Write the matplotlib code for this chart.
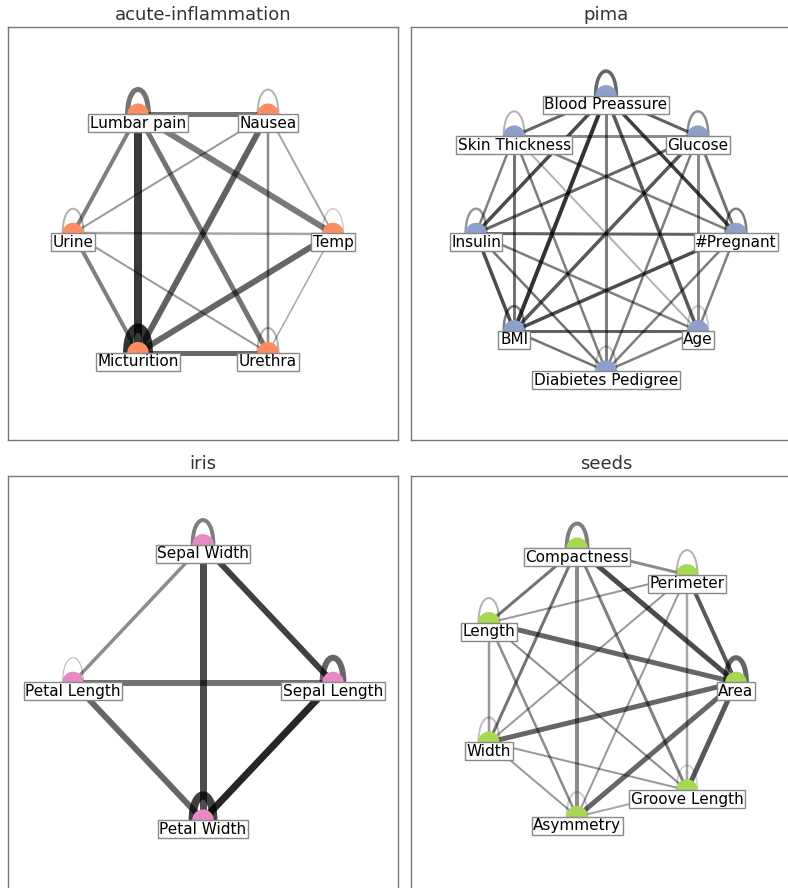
import numpy as np
import matplotlib
matplotlib.use("Agg")
import matplotlib.pyplot as plt
from matplotlib.path import Path as MPath
from matplotlib.patches import PathPatch

# ------------------------------------------------------------------ data
# edges: (u, v, width_px, strength)   strength -> alpha of the black stroke
# loops: node -> (width_px, strength)

ACUTE_NODES = ["Temp", "Nausea", "Lumbar pain", "Urine", "Micturition", "Urethra"]
ACUTE_EDGES = [
    ("Lumbar pain", "Nausea", 5, 0.55), ("Lumbar pain", "Micturition", 8, 0.78),
    ("Lumbar pain", "Urine", 4, 0.50), ("Lumbar pain", "Urethra", 5, 0.55),
    ("Lumbar pain", "Temp", 6, 0.52), ("Nausea", "Urine", 2, 0.40),
    ("Nausea", "Micturition", 6, 0.62), ("Nausea", "Urethra", 2.5, 0.45),
    ("Nausea", "Temp", 2, 0.35), ("Urine", "Temp", 2.5, 0.35),
    ("Urine", "Micturition", 4, 0.50), ("Urine", "Urethra", 2, 0.40),
    ("Temp", "Micturition", 6, 0.60), ("Temp", "Urethra", 1.5, 0.35),
    ("Micturition", "Urethra", 5, 0.60),
]
ACUTE_LOOPS = {"Lumbar pain": (5, 0.55), "Nausea": (2, 0.30), "Urine": (2, 0.30),
               "Temp": (1.5, 0.20), "Micturition": (9, 0.80), "Urethra": (2, 0.30)}

PIMA_NODES = ["#Pregnant", "Glucose", "Blood Preassure", "Skin Thickness",
              "Insulin", "BMI", "Diabietes Pedigree", "Age"]
PIMA_EDGES = [
    ("Blood Preassure", "Glucose", 3, 0.62), ("Blood Preassure", "Skin Thickness", 3, 0.60),
    ("Blood Preassure", "#Pregnant", 3.5, 0.75), ("Blood Preassure", "Age", 3.5, 0.65),
    ("Blood Preassure", "Diabietes Pedigree", 3, 0.50), ("Blood Preassure", "BMI", 4, 0.80),
    ("Blood Preassure", "Insulin", 3.5, 0.70),
    ("Skin Thickness", "Glucose", 3, 0.45), ("Skin Thickness", "Insulin", 2.5, 0.50),
    ("Skin Thickness", "BMI", 3, 0.55), ("Skin Thickness", "Diabietes Pedigree", 2.5, 0.50),
    ("Skin Thickness", "Age", 2, 0.30), ("Skin Thickness", "#Pregnant", 2.5, 0.50),
    ("Glucose", "Insulin", 3, 0.60), ("Glucose", "BMI", 3.5, 0.65),
    ("Glucose", "Diabietes Pedigree", 2.5, 0.50), ("Glucose", "Age", 3, 0.45),
    ("Glucose", "#Pregnant", 3, 0.55),
    ("Insulin", "#Pregnant", 3, 0.62), ("Insulin", "BMI", 3.5, 0.70),
    ("Insulin", "Diabietes Pedigree", 2.5, 0.55), ("Insulin", "Age", 2.5, 0.50),
    ("BMI", "#Pregnant", 3.5, 0.70), ("BMI", "Diabietes Pedigree", 2.5, 0.55),
    ("BMI", "Age", 3, 0.62), ("Diabietes Pedigree", "Age", 2.5, 0.50),
    ("Diabietes Pedigree", "#Pregnant", 2.5, 0.50), ("Age", "#Pregnant", 2.5, 0.50),
]
PIMA_LOOPS = {"Blood Preassure": (3.5, 0.60), "Skin Thickness": (2, 0.30),
              "Glucose": (2.5, 0.45), "Insulin": (2.5, 0.40), "#Pregnant": (2.5, 0.50),
              "BMI": (2.5, 0.50), "Diabietes Pedigree": (2, 0.25), "Age": (2, 0.20)}

IRIS_NODES = ["Sepal Length", "Sepal Width", "Petal Length", "Petal Width"]
IRIS_EDGES = [
    ("Sepal Width", "Petal Length", 3.5, 0.45), ("Sepal Width", "Sepal Length", 6, 0.75),
    ("Sepal Width", "Petal Width", 7, 0.70), ("Petal Length", "Sepal Length", 6, 0.55),
    ("Petal Length", "Petal Width", 6, 0.60), ("Sepal Length", "Petal Width", 7, 0.85),
]
IRIS_LOOPS = {"Sepal Width": (4, 0.50), "Petal Length": (1, 0.30),
              "Sepal Length": (6, 0.60), "Petal Width": (8, 0.75)}

SEEDS_NODES = ["Area", "Perimeter", "Compactness", "Length", "Width",
               "Asymmetry", "Groove Length"]
SEEDS_EDGES = [
    ("Compactness", "Perimeter", 3, 0.45), ("Compactness", "Area", 5, 0.70),
    ("Compactness", "Length", 3, 0.55), ("Compactness", "Width", 3, 0.55),
    ("Compactness", "Asymmetry", 4, 0.45), ("Compactness", "Groove Length", 3, 0.50),
    ("Perimeter", "Length", 2, 0.40), ("Perimeter", "Width", 2, 0.40),
    ("Perimeter", "Asymmetry", 2, 0.40), ("Perimeter", "Groove Length", 2.5, 0.35),
    ("Perimeter", "Area", 4, 0.65), ("Length", "Area", 5, 0.60),
    ("Length", "Width", 2.5, 0.40), ("Length", "Asymmetry", 2.5, 0.45),
    ("Length", "Groove Length", 2, 0.45), ("Width", "Area", 5, 0.60),
    ("Width", "Asymmetry", 2, 0.40), ("Width", "Groove Length", 2, 0.40),
    ("Asymmetry", "Area", 5, 0.60), ("Asymmetry", "Groove Length", 2, 0.35),
    ("Groove Length", "Area", 5, 0.65),
]
SEEDS_LOOPS = {"Compactness": (4, 0.50), "Perimeter": (2, 0.30), "Length": (2, 0.30),
               "Area": (5, 0.60), "Width": (2, 0.25), "Asymmetry": (2, 0.20),
               "Groove Length": (1.5, 0.20)}

PANELS = [
    ("acute-inflammation", ACUTE_NODES, ACUTE_EDGES, ACUTE_LOOPS, "#fc8d62"),
    ("pima", PIMA_NODES, PIMA_EDGES, PIMA_LOOPS, "#8da0cb"),
    ("iris", IRIS_NODES, IRIS_EDGES, IRIS_LOOPS, "#e78ac3"),
    ("seeds", SEEDS_NODES, SEEDS_EDGES, SEEDS_LOOPS, "#a6d854"),
]

W, H, DPI = 788, 888, 100
PX = 72.0 / DPI          # points per pixel
# axes boxes in pixels: (left, top, width, height)
BOXES = [(8, 27, 390, 413), (411, 27, 390, 413), (8, 476, 390, 413), (411, 476, 390, 413)]


def circular(nodes):
    n = len(nodes)
    ang = 2 * np.pi * np.arange(n) / n
    return {nd: (np.cos(a), np.sin(a)) for nd, a in zip(nodes, ang)}


def draw_loop(ax, x, y, lw, alpha):
    a, h = 0.08, 0.24
    verts = [(x - a, y), (x - a, y + h), (x + a, y + h), (x + a, y)]
    codes = [MPath.MOVETO, MPath.CURVE4, MPath.CURVE4, MPath.CURVE4]
    ax.add_patch(PathPatch(MPath(verts, codes), facecolor="none", edgecolor="black",
                           lw=lw * PX, alpha=alpha, zorder=1))


def draw_panel(ax, title, nodes, edges, loops, color):
    pos = circular(nodes)
    for u, v, w, s in edges:
        (x0, y0), (x1, y1) = pos[u], pos[v]
        ax.plot([x0, x1], [y0, y1], color="black", lw=w * PX, alpha=s,
                solid_capstyle="butt", zorder=1)
    for nd, (w, s) in loops.items():
        draw_loop(ax, *pos[nd], w, s)
    xy = np.array([pos[nd] for nd in nodes])
    ax.scatter(xy[:, 0], xy[:, 1], s=240, color=color, edgecolors="none", zorder=2)
    for nd in nodes:
        x, y = pos[nd]
        ax.text(x, y - 0.065, nd, ha="center", va="center", fontsize=11, zorder=3,
                bbox=dict(boxstyle="square,pad=0.1", fc="white", ec="#888888", lw=1))
    ax.set_xlim(-1.5, 1.5)
    ax.set_ylim(-1.5, 1.5)
    ax.set_xticks([])
    ax.set_yticks([])
    for sp in ax.spines.values():
        sp.set_color("#777777")
        sp.set_linewidth(1.0)
    ax.set_title(title, fontsize=13, color="#333333", pad=5)


fig = plt.figure(figsize=(W / DPI, H / DPI), dpi=DPI)
for (l, t, bw, bh), panel in zip(BOXES, PANELS):
    ax = fig.add_axes([l / W, 1 - (t + bh) / H, bw / W, bh / H])
    draw_panel(ax, *panel)

fig.savefig("out.png", dpi=DPI)
